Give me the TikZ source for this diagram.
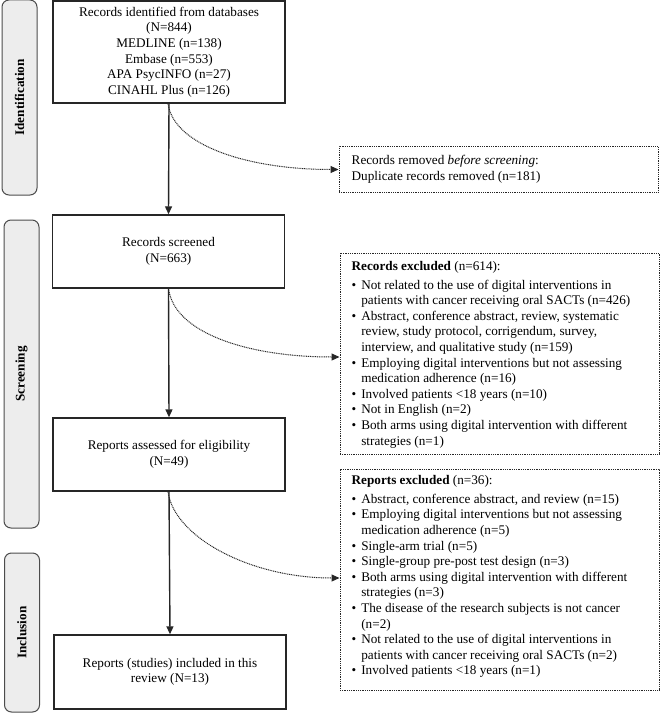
\documentclass[tikz,border=0pt]{standalone}
\usepackage{fontspec}
\setmainfont{Liberation Serif}
\usetikzlibrary{arrows.meta}
\begin{document}
\begin{tikzpicture}[x=1pt,y=-1pt,
  every node/.style={font=\fontsize{13.2}{15.6}\selectfont},
  mainbox/.style={draw=black!85,line width=1.4pt,fill=white,inner sep=0pt,minimum width=232pt,align=center},
  dotbox/.style={draw=black!85,line width=1pt,dash pattern=on 1pt off 0.8pt,inner sep=0pt,minimum width=319pt},
  phase/.style={draw=black!70,line width=1pt,fill=black!7,rounded corners=7pt,inner sep=0pt,minimum width=35pt},
  phasetxt/.style={rotate=90,font=\fontsize{13.2}{15.6}\selectfont\bfseries},
  flow/.style={line width=1.4pt,draw=black!85,-{Triangle[length=8pt,width=7pt]}},
  side/.style={line width=1pt,draw=black!85,dash pattern=on 1pt off 0.8pt,-{Triangle[length=8pt,width=7pt]}}
]
\useasboundingbox (0,0) rectangle (660,714);
% phase labels
\node[phase,minimum height=195pt] (pid) at (19.5,97.5) {};
\node[phasetxt] (pidt) at (pid.center) {Identification};
\node[phase,minimum height=308pt] (psc) at (21.5,374) {};
\node[phasetxt] (psct) at (psc.center) {Screening};
\node[phase,minimum height=159pt] (pin) at (22,632.5) {};
\node[phasetxt] (pint) at (pin.center) {Inclusion};
% main boxes
\node[mainbox,minimum height=102pt] (ident) at (169,52) {Records identified from databases\\(N=844)\\MEDLINE (n=138)\\Embase (n=553)\\APA PsycINFO (n=27)\\CINAHL Plus (n=126)};
\node[mainbox,minimum height=73pt] (screen) at (168.5,251.5) {Records screened\\(N=663)};
\node[mainbox,minimum height=73pt] (assess) at (169,454.5) {Reports assessed for eligibility\\(N=49)};
\node[mainbox,minimum height=74pt] (incl) at (170,672) {Reports (studies) included in this\\review (N=13)};
% side boxes
\node[dotbox,minimum height=46pt] (removed) at (498.5,169.5) {};
\node[anchor=west,inner sep=0pt,align=left] (removedt) at ([xshift=13pt]removed.west) {Records removed \textit{before screening}:\\Duplicate records removed (n=181)};
\node[dotbox,minimum height=201pt] (recex) at (499.5,353.5) {};
\node[anchor=west,inner sep=0pt] (recext) at ([xshift=12pt,yshift=-1pt]recex.west) {%
\begin{tabular}{@{}l@{\hspace{5pt}}l@{}}
\multicolumn{2}{@{}l@{}}{\textbf{Records excluded} (n=614):}\\[3.5pt]
\textbullet & Not related to the use of digital interventions in\\
 & patients with cancer receiving oral SACTs (n=426)\\
\textbullet & Abstract, conference abstract, review, systematic\\
 & review, study protocol, corrigendum, survey,\\
 & interview, and qualitative study (n=159)\\
\textbullet & Employing digital interventions but not assessing\\
 & medication adherence (n=16)\\
\textbullet & Involved patients <18 years (n=10)\\
\textbullet & Not in English (n=2)\\
\textbullet & Both arms using digital intervention with different\\
 & strategies (n=1)
\end{tabular}};
\node[dotbox,minimum height=221pt] (repex) at (499.5,579.5) {};
\node[anchor=west,inner sep=0pt] (repext) at ([xshift=12pt,yshift=3pt]repex.west) {%
\begin{tabular}{@{}l@{\hspace{5pt}}l@{}}
\multicolumn{2}{@{}l@{}}{\textbf{Reports excluded} (n=36):}\\[3.5pt]
\textbullet & Abstract, conference abstract, and review (n=15)\\
\textbullet & Employing digital interventions but not assessing\\
 & medication adherence (n=5)\\
\textbullet & Single-arm trial (n=5)\\
\textbullet & Single-group pre-post test design (n=3)\\
\textbullet & Both arms using digital intervention with different\\
 & strategies (n=3)\\
\textbullet & The disease of the research subjects is not cancer\\
 & (n=2)\\
\textbullet & Not related to the use of digital interventions in\\
 & patients with cancer receiving oral SACTs (n=2)\\
\textbullet & Involved patients <18 years (n=1)
\end{tabular}};
% flow arrows
\draw[flow] (ident.south) -- (screen.north);
\draw[flow] (screen.south) -- (assess.north);
\draw[flow] (assess.south) -- (incl.north);
% exclusion arrows
\coordinate (s1) at ([xshift=-1pt]ident.south);
\coordinate (s2) at (screen.south);
\coordinate (s3) at ([xshift=-1pt]assess.south);
\coordinate (e2) at ([yshift=-3.5pt]recex.west);
\coordinate (e3) at ([yshift=1.5pt]repex.west);
\draw[side] (s1) .. controls +(6,42) and +(-90,0) .. (removed.west);
\draw[side] (s2) .. controls +(6,45) and +(-90,0) .. (e2);
\draw[side] (s3) .. controls +(6,45) and +(-90,0) .. (e3);
\end{tikzpicture}
\end{document}
